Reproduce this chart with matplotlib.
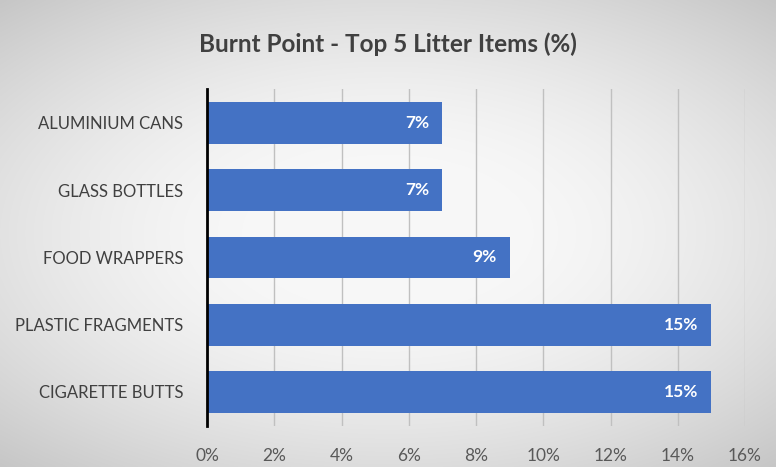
import matplotlib
matplotlib.use("Agg")
import matplotlib.pyplot as plt
import numpy as np

categories = ["ALUMINIUM CANS", "GLASS BOTTLES", "FOOD WRAPPERS", "PLASTIC FRAGMENTS", "CIGARETTE BUTTS"]
values = [7, 7, 9, 15, 15]
xticks = [0, 2, 4, 6, 8, 10, 12, 14, 16]
title = "Burnt Point - Top 5 Litter Items (%)"

plt.rcParams['font.family'] = ['Lato', 'DejaVu Sans']

fig = plt.figure(figsize=(7.76, 4.67), dpi=100)

# background gradient
bg = fig.add_axes([0, 0, 1, 1], zorder=-10)
yy, xx = np.mgrid[-1:1:300j, -1:1:500j]
r = np.sqrt((xx * 0.9) ** 2 + (yy * 1.0) ** 2)
g = 0.97 - 0.18 * np.clip(r - 0.3, 0, None) ** 1.5
img = np.dstack([g, g, g])
bg.imshow(img, aspect='auto', extent=[0, 1, 0, 1], interpolation='bilinear')
bg.axis('off')

ax = fig.add_axes([0.2668, 0.0887, 0.6933, 0.72])
ax.patch.set_alpha(0)
ypos = np.arange(len(categories))
ax.barh(ypos, values, height=0.62, color='#4472C4', zorder=3)
ax.set_yticks(ypos)
ax.set_yticklabels(categories)
ax.set_ylim(len(categories) - 0.5, -0.5)
ax.set_xlim(0, 16)
ax.set_xticks(xticks)
ax.set_xticklabels([f"{t}%" for t in xticks])
ax.grid(axis='x', color='#c0c0c0', linewidth=1, zorder=0)
for s in ['top', 'right', 'bottom']:
    ax.spines[s].set_visible(False)
ax.spines['left'].set_color('black')
ax.spines['left'].set_linewidth(2)
ax.spines['left'].set_zorder(4)
ax.tick_params(axis='both', length=0)
ax.tick_params(axis='y', labelsize=12, colors='#404040', pad=17)
ax.tick_params(axis='x', labelsize=12.5, colors='#595959', pad=16)

for y, v in zip(ypos, values):
    ax.text(v - 0.38, y, f"{v}%", ha='right', va='center', color='white',
            fontsize=12.5, fontweight='bold', zorder=5)

fig.text(0.5, 0.905, title, ha='center', va='center', fontsize=17.5,
         fontweight='bold', color='#404040')

fig.savefig("out.png", dpi=100)
